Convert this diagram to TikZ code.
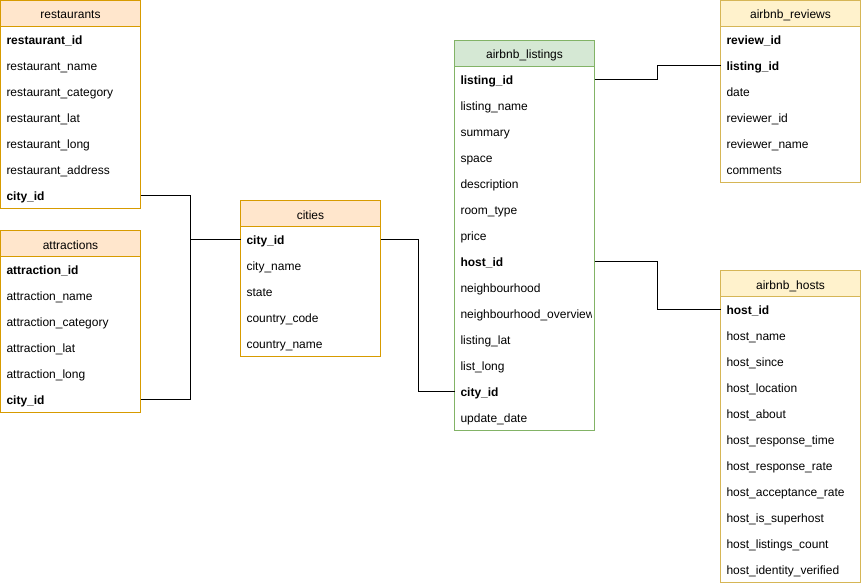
\documentclass[tikz,border=0pt]{standalone}
\usepackage{fontspec}
\setmainfont{Liberation Sans}
\usepackage{tikz}
\usetikzlibrary{positioning}

\definecolor{orangefill}{HTML}{FFE6CC}
\definecolor{orangeline}{HTML}{D79B00}
\definecolor{yellowfill}{HTML}{FFF2CC}
\definecolor{yellowline}{HTML}{D6B656}
\definecolor{greenfill}{HTML}{D5E8D4}
\definecolor{greenline}{HTML}{82B366}

\begin{document}
\begin{tikzpicture}[
  x=1pt, y=-1pt,
  every node/.style={font=\fontsize{12}{14}\selectfont, outer sep=0pt},
  tablehead/.style={draw, line width=1pt, anchor=north west, inner sep=0pt,
    minimum width=140pt, minimum height=26pt, text height=11pt, text depth=0pt},
  tablebody/.style={draw, line width=1pt, inner sep=0pt, minimum width=140pt},
  field/.style={inner xsep=6pt, inner ysep=0pt, text width=128pt, align=left,
    minimum height=26pt, text height=11pt, text depth=1pt},
  keyfield/.style={field, font=\fontsize{12}{14}\selectfont\bfseries},
  ]
  \tikzset{%
    orangetab/.style={draw=orangeline, fill=orangefill},
    yellowtab/.style={draw=yellowline, fill=yellowfill},
    greentab/.style={draw=greenline, fill=greenfill},
    link/.style={draw=black, line width=1pt},
  }
  \useasboundingbox (0,0) rectangle (861,586);
  %restaurants
  \node[tablehead, orangetab](rest-head) at (0.5,0.5){restaurants};
  \node[tablebody, draw=orangeline, minimum height=182pt, below=0pt of rest-head](rest-body){};
  \node[keyfield, below=0pt of rest-head](rest-id){restaurant\_id};
  \node[field, below=0pt of rest-id](rest-name){restaurant\_name};
  \node[field, below=0pt of rest-name](rest-cat){restaurant\_category};
  \node[field, below=0pt of rest-cat](rest-lat){restaurant\_lat};
  \node[field, below=0pt of rest-lat](rest-long){restaurant\_long};
  \node[field, below=0pt of rest-long](rest-addr){restaurant\_address};
  \node[keyfield, below=0pt of rest-addr](rest-city){city\_id};
  %attractions
  \node[tablehead, orangetab](attr-head) at (0.5,230.5){attractions};
  \node[tablebody, draw=orangeline, minimum height=156pt, below=0pt of attr-head](attr-body){};
  \node[keyfield, below=0pt of attr-head](attr-id){attraction\_id};
  \node[field, below=0pt of attr-id](attr-name){attraction\_name};
  \node[field, below=0pt of attr-name](attr-cat){attraction\_category};
  \node[field, below=0pt of attr-cat](attr-lat){attraction\_lat};
  \node[field, below=0pt of attr-lat](attr-long){attraction\_long};
  \node[keyfield, below=0pt of attr-long](attr-city){city\_id};
  %cities
  \node[tablehead, orangetab](city-head) at (240.5,200.5){cities};
  \node[tablebody, draw=orangeline, minimum height=130pt, below=0pt of city-head](city-body){};
  \node[keyfield, below=0pt of city-head](city-id){city\_id};
  \node[field, below=0pt of city-id](city-name){city\_name};
  \node[field, below=0pt of city-name](city-state){state};
  \node[field, below=0pt of city-state](city-code){country\_code};
  \node[field, below=0pt of city-code](city-country){country\_name};
  %airbnb_listings
  \node[tablehead, greentab](list-head) at (454.5,40.5){airbnb\_listings};
  \node[tablebody, draw=greenline, minimum height=364pt, below=0pt of list-head](list-body){};
  \node[keyfield, below=0pt of list-head](list-id){listing\_id};
  \node[field, below=0pt of list-id](list-name){listing\_name};
  \node[field, below=0pt of list-name](list-summary){summary};
  \node[field, below=0pt of list-summary](list-space){space};
  \node[field, below=0pt of list-space](list-desc){description};
  \node[field, below=0pt of list-desc](list-room){room\_type};
  \node[field, below=0pt of list-room](list-price){price};
  \node[keyfield, below=0pt of list-price](list-host){host\_id};
  \node[field, below=0pt of list-host](list-hood){neighbourhood};
  \begin{scope}
    \clip ([yshift=-230pt]list-head.south west) rectangle ([xshift=-3pt,yshift=-265pt]list-head.south east);
    \node[field, below=0pt of list-hood](list-overview){neighbourhood\_overview};
  \end{scope}
  \node[field, below=0pt of list-overview](list-lat){listing\_lat};
  \node[field, below=0pt of list-lat](list-long){list\_long};
  \node[keyfield, below=0pt of list-long](list-city){city\_id};
  \node[field, below=0pt of list-city](list-date){update\_date};
  %airbnb_reviews
  \node[tablehead, yellowtab](rev-head) at (720.5,0.5){airbnb\_reviews};
  \node[tablebody, draw=yellowline, minimum height=156pt, below=0pt of rev-head](rev-body){};
  \node[keyfield, below=0pt of rev-head](rev-id){review\_id};
  \node[keyfield, below=0pt of rev-id](rev-listing){listing\_id};
  \node[field, below=0pt of rev-listing](rev-date){date};
  \node[field, below=0pt of rev-date](rev-reviewer){reviewer\_id};
  \node[field, below=0pt of rev-reviewer](rev-rname){reviewer\_name};
  \node[field, below=0pt of rev-rname](rev-comments){comments};
  %airbnb_hosts
  \node[tablehead, yellowtab](host-head) at (720.5,270.5){airbnb\_hosts};
  \node[tablebody, draw=yellowline, minimum height=286pt, below=0pt of host-head](host-body){};
  \node[keyfield, below=0pt of host-head](host-id){host\_id};
  \node[field, below=0pt of host-id](host-name){host\_name};
  \node[field, below=0pt of host-name](host-since){host\_since};
  \node[field, below=0pt of host-since](host-loc){host\_location};
  \node[field, below=0pt of host-loc](host-about){host\_about};
  \node[field, below=0pt of host-about](host-time){host\_response\_time};
  \node[field, below=0pt of host-time](host-rate){host\_response\_rate};
  \node[field, below=0pt of host-rate](host-accept){host\_acceptance\_rate};
  \node[field, below=0pt of host-accept](host-super){host\_is\_superhost};
  \node[field, below=0pt of host-super](host-count){host\_listings\_count};
  \node[field, below=0pt of host-count](host-verified){host\_identity\_verified};
  %Lines
  \draw[link] (rest-city.east) -- ++(49.5,0) |- (city-id.west);
  \draw[link] (attr-city.east) -- ++(49.5,0) |- (city-id.west);
  \draw[link] (city-id.east) -- ++(37.5,0) |- (list-city.west);
  \draw[link] (list-id.east) -- ++(62.5,0) |- (rev-listing.west);
  \draw[link] (list-host.east) -- ++(62.5,0) |- (host-id.west);
\end{tikzpicture}
\end{document}
